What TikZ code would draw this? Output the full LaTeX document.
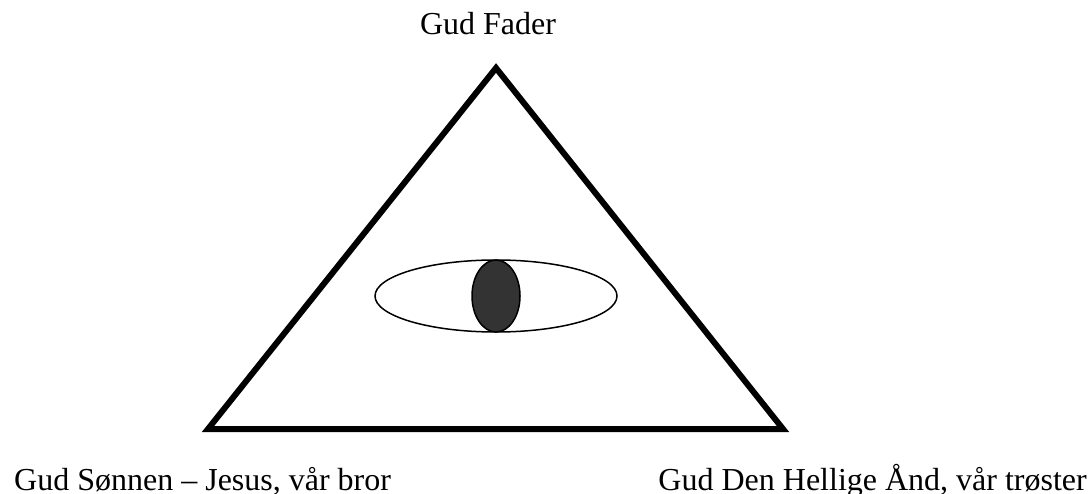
\documentclass[tikz,border=0pt]{standalone}
\usepackage{fontspec}
\setmainfont{Liberation Serif}
\usetikzlibrary{math}
\definecolor{mygray}{RGB}{51, 51, 51}

\begin{document}
\begin{tikzpicture}[x=1pt,y=-1pt]
\tikzmath{
\W=1091;
\H=494;
\ex=496;
\ey=296;
}
\useasboundingbox (0,0) rectangle (\W,\H);

\coordinate (top) at (496,68);
\coordinate (sonn) at (208,429);
\coordinate (aand) at (783,429);

\draw[line width=6] (sonn) -- (top) -- (aand) -- cycle;

%eye
\draw[line width=1.5] (\ex,\ey) ellipse (121 and 36);
\draw[line width=1.5, fill=mygray] (\ex,\ey) ellipse (24 and 36);

\node[anchor=base, font=\fontsize{32}{36}\selectfont, inner sep=0] (fader) at (488,35) {Gud Fader};
\node[anchor=base west, font=\fontsize{32}{36}\selectfont, inner sep=0] (sonnen) at (14,490) {Gud Sønnen – Jesus, vår bror};
\node[anchor=base east, font=\fontsize{32}{36}\selectfont, inner sep=0] (aanden) at (1087,490) {Gud Den Hellige Ånd, vår trøster};
\end{tikzpicture}
\end{document}
